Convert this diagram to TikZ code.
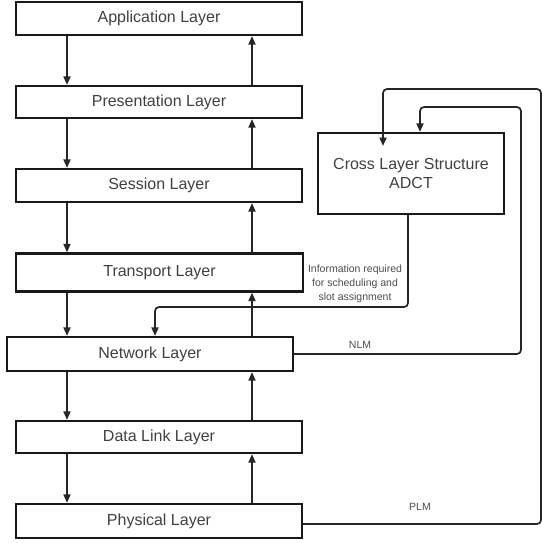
\documentclass[tikz,border=0pt]{standalone}
\usepackage{fontspec}
\setmainfont{Liberation Sans}
\usepackage{tikz}
\usetikzlibrary{arrows.meta,calc,positioning}

\tikzset{
	layer/.style={draw=black!90, line width=2.2pt, minimum width=286pt, minimum height=33pt,
		inner sep=0pt, text=black!75, font=\fontsize{16}{19}\selectfont},
	link/.style={draw=black!85, line width=1.7pt, rounded corners=4pt},
	tag/.style={text=black!70, font=\fontsize{10.5}{14}\selectfont, align=center, inner sep=0pt},
}

\begin{document}
\begin{tikzpicture}[x=1pt,y=-1pt,>={Triangle[length=8.5pt,width=7pt]}]
	\useasboundingbox (0,0) rectangle (543,542);
	%
	% OSI stack
	\node[layer] (app) at (159,18.5) {Application Layer};
	\node[layer,minimum height=32pt] (pres) at (159,102) {Presentation Layer};
	\node[layer] (sess) at (159,185.5) {Session Layer};
	\node[layer,minimum width=287pt,minimum height=38pt] (trans) at (159.5,272.5) {Transport Layer};
	\node[layer,minimum height=34pt] (net) at (150,354) {Network Layer};
	\node[layer,minimum height=32pt] (dl) at (159,437) {Data Link Layer};
	\node[layer,minimum height=34pt] (phy) at (159,521) {Physical Layer};
	
	% cross layer block
	\node[layer,minimum width=186pt,minimum height=81pt,align=center,
		font=\fontsize{16}{19}\selectfont] (cross) at (411,173.5) {Cross Layer Structure\\ADCT};
	%
	\coordinate (dn) at (67,0);
	\coordinate (up) at (252,0);
	\foreach \a/\b in {app/pres,pres/sess,sess/trans,trans/net,net/dl,dl/phy}
	{
		\draw[link,->] (\a.south -| dn) -- (\b.north -| dn);
		\draw[link,->] (\b.north -| up) -- (\a.south -| up);
	}
	%
	% scheduling info back to the network layer
	\coordinate (infoturn) at (155,307);
	\draw[link,->] ([xshift=-3pt]cross.south) |- (infoturn) -- (infoturn |- net.north);
	\node[tag] (info) at (355,284) {Information required\\for scheduling and\\slot assignment};
	
	% NLM
	\coordinate (nlmturn) at (521,107);
	\coordinate (nlmin) at (420,0);
	\draw[link,->] (net.east) -| (nlmturn) -| (cross.north -| nlmin);
	\node[tag] (nlm) at (360,345) {NLM};
	
	% PLM
	\coordinate (plmturn) at (541,89);
	\coordinate (plmin) at (383,146);
	\draw[link,->] ([yshift=-3pt]phy.east) -| (plmturn) -| (plmin);
	\node[tag] (plm) at (420,507) {PLM};
\end{tikzpicture}
\end{document}
